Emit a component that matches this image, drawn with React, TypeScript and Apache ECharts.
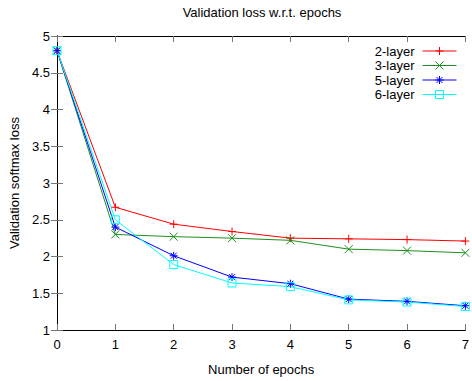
import React, { useEffect, useRef } from "react";
import * as echarts from "echarts";

const epochs = [0, 1, 2, 3, 4, 5, 6, 7];
const layer2 = [4.8, 2.67, 2.44, 2.34, 2.25, 2.24, 2.23, 2.21];
const layer3 = [4.8, 2.3, 2.27, 2.25, 2.22, 2.1, 2.08, 2.05];
const layer5 = [4.8, 2.4, 2.01, 1.72, 1.63, 1.42, 1.39, 1.33];
const layer6 = [4.8, 2.5, 1.89, 1.64, 1.59, 1.41, 1.38, 1.32];
const seriesNames = ["2-layer", "3-layer", "5-layer", "6-layer"];
const seriesColors = ["#ff0000", "#1e8f1e", "#0000ff", "#00ffff"];
const seriesSymbols = [
  "path://M0,-1L0,1M-1,0L1,0",
  "path://M-1,-1L1,1M-1,1L1,-1",
  "path://M0,-1L0,1M-1,0L1,0M-0.75,-0.75L0.75,0.75M-0.75,0.75L0.75,-0.75",
  "path://M-1,-1L1,-1L1,1L-1,1Z",
];

const FONT = "'Liberation Sans', Arial, sans-serif";

export default function App() {
  const ref = useRef<HTMLDivElement>(null);
  useEffect(() => {
    if (!ref.current) return;
    const chart = echarts.init(ref.current, undefined, { renderer: "svg" });
    const dataSets = [layer2, layer3, layer5, layer6];
    const tickStyle = { show: true, inside: true, length: 6, lineStyle: { color: "#777", width: 1 } };
    const axisLine = { show: true, lineStyle: { color: "#000", width: 1 } };
    const labelStyle = { color: "#000", fontSize: 13, fontFamily: FONT };
    chart.setOption({
      animation: false,
      backgroundColor: "#fff",
      textStyle: { fontFamily: FONT },
      title: {
        text: "Validation loss w.r.t. epochs",
        left: 257,
        textAlign: "center",
        top: 1,
        textStyle: { fontSize: 13, fontWeight: "normal", color: "#000", fontFamily: FONT },
      },
      legend: {
        orient: "vertical",
        right: 10,
        top: 39,
        align: "right",
        itemWidth: 34,
        itemHeight: 10,
        itemGap: 0.5,
        lineStyle: { width: 1 },
        itemStyle: { borderWidth: 1 },
        textStyle: { fontSize: 13, lineHeight: 14, color: "#000", fontFamily: FONT, padding: [0, 3, 0, 0] },
        data: seriesNames,
      },
      grid: { left: 53, right: 2, top: 36, bottom: 45.5, containLabel: false },
      xAxis: [
        {
          type: "value",
          min: 0,
          max: 7,
          interval: 1,
          name: "Number of epochs",
          nameLocation: "middle",
          nameGap: 33,
          nameTextStyle: labelStyle,
          axisLine,
          axisTick: tickStyle,
          axisLabel: { ...labelStyle, margin: 8 },
          splitLine: { show: false },
        },
        {
          type: "value",
          position: "top",
          min: 0,
          max: 7,
          interval: 1,
          axisLine,
          axisTick: tickStyle,
          axisLabel: { show: false },
          splitLine: { show: false },
        },
      ],
      yAxis: [
        {
          type: "value",
          min: 1,
          max: 5,
          interval: 0.5,
          name: "Validation softmax loss",
          nameLocation: "middle",
          nameGap: 36,
          nameTextStyle: labelStyle,
          axisLine,
          axisTick: tickStyle,
          axisLabel: { ...labelStyle, margin: 7 },
          splitLine: { show: false },
        },
        {
          type: "value",
          position: "right",
          min: 1,
          max: 5,
          interval: 0.5,
          axisLine,
          axisTick: tickStyle,
          axisLabel: { show: false },
          splitLine: { show: false },
        },
      ],
      series: seriesNames.map((name, i) => ({
        name,
        type: "line",
        xAxisIndex: 0,
        yAxisIndex: 0,
        data: epochs.map((e, j) => [e, dataSets[i][j]]),
        symbol: seriesSymbols[i],
        symbolSize: 8,
        showAllSymbol: true,
        lineStyle: { color: seriesColors[i], width: 1 },
        itemStyle: { color: "none", borderColor: seriesColors[i], borderWidth: 1 },
        emphasis: { disabled: true },
      })),
    });
    return () => chart.dispose();
  }, []);
  return (
    <div
      ref={ref}
      style={{ position: "absolute", left: 0, top: 0, width: 472, height: 381 }}
    />
  );
}
